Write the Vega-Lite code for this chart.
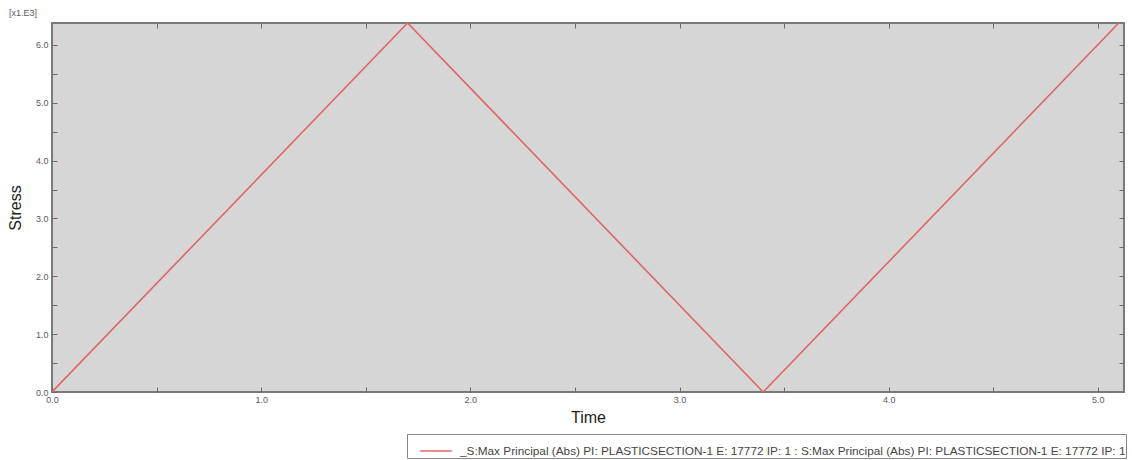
{
  "$schema": "https://vega.github.io/schema/vega-lite/v6.json",
  "autosize": "none",
  "width": 1072,
  "height": 369,
  "padding": {"left": 52, "top": 23, "right": 8, "bottom": 68},
  "background": "white",
  "config": {
    "view": {"stroke": "#7a7a7a", "strokeWidth": 2, "fill": "#d6d6d6"},
    "font": "Liberation Sans",
    "axis": {"grid": false, "domain": false, "tickColor": "#6a6a6a", "labelColor": "#5a5a5a", "labelFont": "Liberation Sans", "labelFontSize": 9}
  },
  "title": {"text": "[x1.E3]", "anchor": "start", "frame": "group", "dx": -43, "fontSize": 9, "fontWeight": "normal", "color": "#5a5a5a", "offset": 5},
  "data": {"values": [
    {"t": 0.0, "s": 0.0, "series": "_S:Max Principal (Abs) PI: PLASTICSECTION-1 E: 17772 IP: 1 : S:Max Principal (Abs) PI: PLASTICSECTION-1 E: 17772 IP: 1"},
    {"t": 1.7, "s": 6.38, "series": "_S:Max Principal (Abs) PI: PLASTICSECTION-1 E: 17772 IP: 1 : S:Max Principal (Abs) PI: PLASTICSECTION-1 E: 17772 IP: 1"},
    {"t": 3.4, "s": 0.0, "series": "_S:Max Principal (Abs) PI: PLASTICSECTION-1 E: 17772 IP: 1 : S:Max Principal (Abs) PI: PLASTICSECTION-1 E: 17772 IP: 1"},
    {"t": 5.1, "s": 6.38, "series": "_S:Max Principal (Abs) PI: PLASTICSECTION-1 E: 17772 IP: 1 : S:Max Principal (Abs) PI: PLASTICSECTION-1 E: 17772 IP: 1"}
  ]},
  "layer": [
    {
      "mark": {"type": "line", "strokeWidth": 1.6, "clip": true},
      "encoding": {
        "x": {"field": "t", "type": "quantitative", "scale": {"domain": [0, 5.125], "nice": false, "zero": false},
          "axis": {"title": "Time", "titleFontSize": 16, "titleFont": "Liberation Sans", "titleFontWeight": "normal", "titleColor": "#222", "titlePadding": 5,
            "values": [0, 0.5, 1, 1.5, 2, 2.5, 3, 3.5, 4, 4.5, 5], "labelExpr": "datum.value % 1 == 0 ? format(datum.value, '.1f') : ''", "tickSize": -5, "labelPadding": 8, "labelFlush": false}},
        "y": {"field": "s", "type": "quantitative", "scale": {"domain": [0, 6.38], "nice": false, "zero": false},
          "axis": {"title": "Stress", "titleFontSize": 16, "titleFont": "Liberation Sans", "titleFontWeight": "normal", "titleColor": "#222", "titlePadding": 12,
            "values": [0, 0.5, 1, 1.5, 2, 2.5, 3, 3.5, 4, 4.5, 5, 5.5, 6], "labelExpr": "datum.value % 1 == 0 ? format(datum.value, '.1f') : ''", "tickSize": -5, "labelPadding": 9, "labelFlush": false}},
        "color": {"field": "series", "type": "nominal", "scale": {"range": ["#e06666"]},
          "legend": {"title": null, "orient": "none", "legendX": 355, "legendY": 411, "symbolType": "stroke", "symbolSize": 1000, "symbolStrokeWidth": 1.5, "symbolOffset": 12,
            "strokeColor": "#888", "padding": 0, "labelFontSize": 11.8, "labelColor": "#444", "labelLimit": 2000, "labelOffset": 7, "fillColor": "white", "cornerRadius": 0}}
      }
    },
    {
      "mark": {"type": "line", "strokeOpacity": 0},
      "encoding": {
        "x": {"field": "t", "type": "quantitative", "scale": {"domain": [0, 5.125], "nice": false, "zero": false},
          "axis": {"orient": "top", "title": null, "labels": false, "values": [0.5, 1, 1.5, 2, 2.5, 3, 3.5, 4, 4.5, 5], "tickSize": -5}},
        "y": {"field": "s", "type": "quantitative", "scale": {"domain": [0, 6.38], "nice": false, "zero": false},
          "axis": {"orient": "right", "title": null, "labels": false, "values": [0.5, 1, 1.5, 2, 2.5, 3, 3.5, 4, 4.5, 5, 5.5, 6], "tickSize": -5}}
      }
    }
  ],
  "resolve": {"scale": {"x": "independent", "y": "independent"}}
}
